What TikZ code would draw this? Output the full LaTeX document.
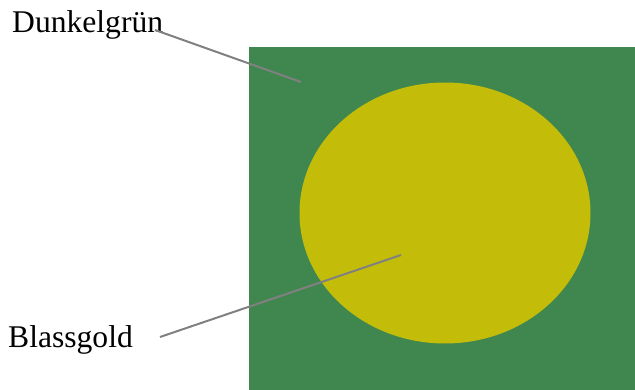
\documentclass[tikz,border=0pt]{standalone}
\usepackage{fontspec}
\setmainfont{Liberation Serif}
\usetikzlibrary{positioning,shapes.geometric}

\definecolor{dunkelgruen}{HTML}{40874F}
\definecolor{blassgold}{HTML}{C3BD0A}

\begin{document}
\begin{tikzpicture}[
      x=1pt, y=-1pt,
      field/.style={fill=dunkelgruen, draw=none},
      disc/.style={fill=blassgold, draw=none},
      label/.style={anchor=base west, inner sep=0pt, font=\fontsize{31.6pt}{36pt}\selectfont},
      leader/.style={draw=gray, line width=2pt}
  ]
      \useasboundingbox (0,0) rectangle (635,390);

      % SHAPES
      \node[field, minimum width=386pt, minimum height=343pt, inner sep=0pt, anchor=north west] (flag) at (249,47) {};
      \node[disc, ellipse, minimum width=291pt, minimum height=261pt, inner sep=0pt] (sun) at (445,213) {};

      % LABELS
      \node[label] (dg) at (12,33) {Dunkelgrün};
      \node[label] (bg) at (8,348) {Blassgold};

      \coordinate (dgfrom) at (155,30);
      \coordinate (dgto) at (301,82);
      \coordinate (bgfrom) at (160,337);
      \coordinate (bgto) at (401,255);

      \draw[leader] (dgfrom) -- (dgto);
      \draw[leader] (bgfrom) -- (bgto);
  \end{tikzpicture}
\end{document}
